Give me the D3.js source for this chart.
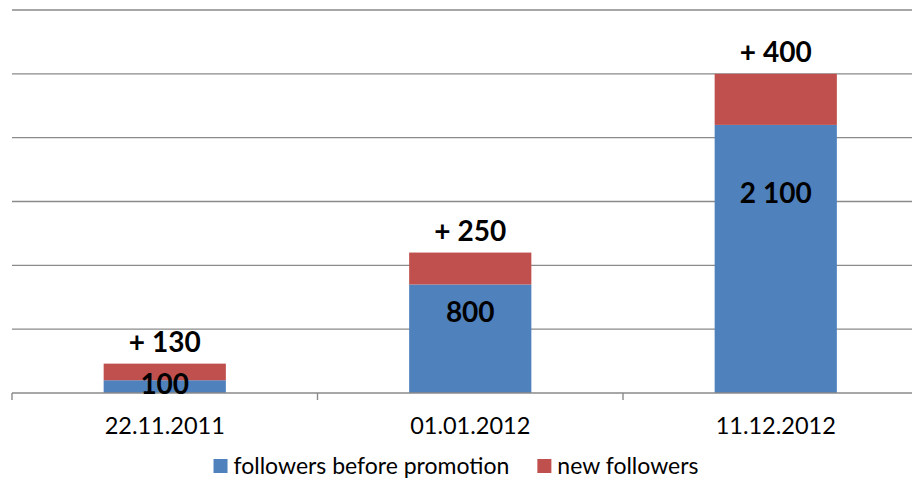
<!DOCTYPE html>
<html>
<head>
<meta charset="utf-8">
<script src="https://cdn.jsdelivr.net/npm/d3@7"></script>
<style>
  body { margin: 0; background: #fff; }
  svg { display: block; font-family: Lato, "Open Sans", sans-serif; }
</style>
</head>
<body>
<div id="chart"></div>
<script>
// data
var categories = ["22.11.2011", "01.01.2012", "11.12.2012"];
var beforeValues = [100, 850, 2100];
var newValues = [130, 250, 400];
var beforeLabels = ["100", "800", "2 100"];
var newLabels = ["+ 130", "+ 250", "+ 400"];
var seriesNames = ["followers before promotion", "new followers"];
var yTicks = [0, 500, 1000, 1500, 2000, 2500, 3000];

var w = 912, h = 480;
var colors = ["#4f81bd", "#c0504d"];

var svg = d3.select("#chart")
    .append("svg")
    .attr("width", w)
    .attr("height", h);

var x = d3.scaleBand()
    .domain(categories)
    .range([12, 928.5])
    .paddingInner(0.6)
    .paddingOuter(0.3);

var y = d3.scaleLinear()
    .domain([0, 3000])
    .range([393, 10]);

//gridlines
svg.selectAll("line.grid")
    .data(yTicks.slice(1))
    .enter()
    .append("line")
    .attr("class", "grid")
    .attr("x1", 12)
    .attr("x2", w)
    .attr("y1", function (d) { return y(d); })
    .attr("y2", function (d) { return y(d); })
    .style("stroke", "#8a8a8a")
    .style("stroke-width", 1.4);

//stacked bars
var stacked = categories.map(function (c, i) {
    return { cat: c, before: beforeValues[i], added: newValues[i] };
});

svg.selectAll("rect.before")
    .data(stacked)
    .enter()
    .append("rect")
    .attr("class", "before")
    .attr("x", function (d) { return x(d.cat); })
    .attr("width", x.bandwidth())
    .attr("y", function (d) { return y(d.before); })
    .attr("height", function (d) { return y(0) - y(d.before); })
    .style("fill", colors[0]);

svg.selectAll("rect.added")
    .data(stacked)
    .enter()
    .append("rect")
    .attr("class", "added")
    .attr("x", function (d) { return x(d.cat); })
    .attr("width", x.bandwidth())
    .attr("y", function (d) { return y(d.before + d.added); })
    .attr("height", function (d) { return y(d.before) - y(d.before + d.added); })
    .style("fill", colors[1]);

//x axis
var axis = svg.append("g")
    .attr("transform", "translate(0," + y(0) + ")")
    .call(d3.axisBottom(x).tickSize(0).tickPadding(24));
axis.select(".domain").remove();
axis.selectAll("text")
    .style("font-size", "23.5px")
    .style("font-family", "Lato, sans-serif")
    .style("fill", "#000");

svg.append("line")
    .attr("x1", 12).attr("x2", w)
    .attr("y1", y(0)).attr("y2", y(0))
    .style("stroke", "#8a8a8a")
    .style("stroke-width", 1.4);

var step = x.step();
svg.selectAll("line.tick")
    .data(categories)
    .enter()
    .append("line")
    .attr("class", "tick")
    .attr("x1", function (d) { return x(d) + x.bandwidth() / 2 - step / 2; })
    .attr("x2", function (d) { return x(d) + x.bandwidth() / 2 - step / 2; })
    .attr("y1", y(0))
    .attr("y2", y(0) + 7)
    .style("stroke", "#8a8a8a")
    .style("stroke-width", 1.4);

//labels
svg.selectAll("text.lblBefore")
    .data(stacked)
    .enter()
    .append("text")
    .attr("class", "lblBefore")
    .attr("x", function (d) { return x(d.cat) + x.bandwidth() / 2; })
    .attr("y", function (d) { return y(d.before * 0.745); })
    .attr("dy", "0.36em")
    .attr("text-anchor", "middle")
    .style("font-weight", "bold")
    .style("font-size", "28px")
    .text(function (d, i) { return beforeLabels[i]; });

svg.selectAll("text.lblNew")
    .data(stacked)
    .enter()
    .append("text")
    .attr("class", "lblNew")
    .attr("x", function (d) { return x(d.cat) + x.bandwidth() / 2; })
    .attr("y", function (d) { return y(d.before + d.added) - 12; })
    .attr("text-anchor", "middle")
    .style("font-weight", "bold")
    .style("font-size", "28px")
    .text(function (d, i) { return newLabels[i]; });

//legend
var legend = svg.append("g");
var lx = 0;
seriesNames.forEach(function (name, i) {
    var g = legend.append("g").attr("transform", "translate(" + lx + ",0)");
    g.append("rect")
        .attr("x", 0).attr("y", -7)
        .attr("width", 14).attr("height", 14)
        .style("fill", colors[i]);
    var t = g.append("text")
        .attr("x", 20)
        .attr("dy", "0.36em")
        .style("font-size", "23px")
        .text(name);
    lx += 20 + t.node().getComputedTextLength() + 28;
});
lx -= 28;
legend.attr("transform", "translate(" + (456 - lx / 2) + ",466)");
</script>
</body>
</html>
